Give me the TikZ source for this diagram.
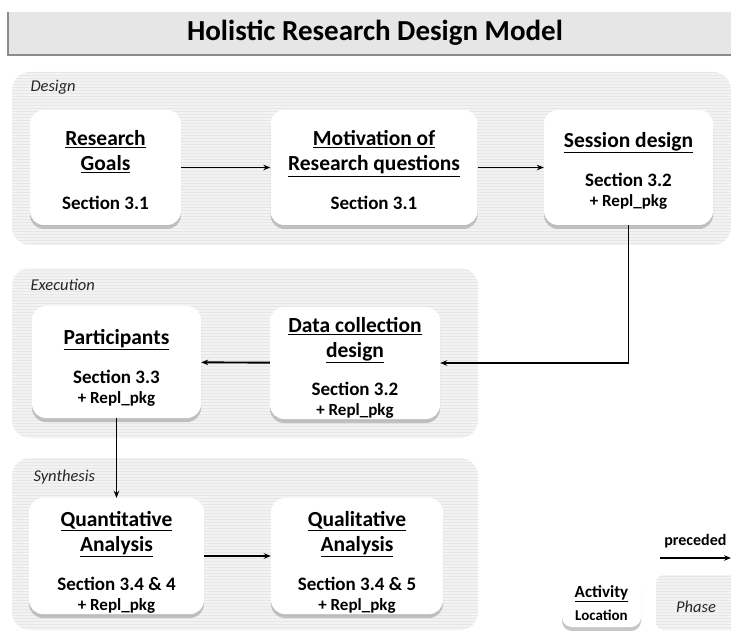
\documentclass[tikz,border=0pt]{standalone}
\usepackage{fontspec}
\setmainfont{Carlito}
\usetikzlibrary{arrows.meta,shadows,patterns}
\definecolor{phasegray}{HTML}{F3F3F3}
\definecolor{stripe}{HTML}{E6E6E6}
\definecolor{titlegray}{HTML}{E6E6E6}
\definecolor{titleedge}{HTML}{8C8C8C}
\newcommand\acttitle[1]{{\fontsize{21.5}{25}\selectfont\underline{#1}}}
\newcommand\repl{{\fontsize{17}{20}\selectfont + Repl\_pkg}}
\begin{document}
\begin{tikzpicture}[x=1pt,y=-1pt,
  phasebox/.style={fill=phasegray, rounded corners=18pt,
    postaction={pattern=horizontal lines, pattern color=stripe}},
  actbox/.style={fill=white, rounded corners=14pt, inner sep=0pt,
    drop shadow={shadow xshift=0pt, shadow yshift=-4pt, fill=black!40, opacity=0.55}},
  acttext/.style={align=center, inner sep=0pt, font=\bfseries\fontsize{19}{20}\selectfont},
  phaselabel/.style={anchor=west, font=\itshape\fontsize{16.5}{18}\selectfont, text=black!85},
  flow/.style={-{Stealth[length=7pt,width=5.5pt]}, line width=1.9pt}
]
\useasboundingbox (0,0) rectangle (731,631);

% title bar
\path[fill=titlegray] (7,12) rectangle (735,55);
\draw[titleedge, line width=1.5pt] (8,12) -- (8,55) -- (735,55);
\node[font=\bfseries\fontsize{29}{32}\selectfont] (title) at (375,33) {Holistic Research Design Model};

% phases
\path[phasebox] (12,72) rectangle (731,245);
\node[phaselabel] (lblDesign) at (27,87) {Design};
\path[phasebox] (12,268) rectangle (478,438);
\node[phaselabel] (lblExec) at (27,285) {Execution};
\path[phasebox] (12,458) rectangle (478,630);
\node[phaselabel] (lblSyn) at (30,477) {Synthesis};

% activities
\node[actbox, minimum width=151pt, minimum height=115pt] (goals) at (105.5,167.5) {};
\node[acttext] (goalsT) at (105.5,170.5)
  {\acttitle{Research}\\[5pt]\acttitle{Goals}\\[19pt]Section 3.1};
\node[actbox, minimum width=207pt, minimum height=115pt] (motiv) at (374,167.5) {};
\node[acttext] (motivT) at (374,170.5)
  {\acttitle{Motivation of}\\[5pt]\acttitle{Research questions}\\[19pt]Section 3.1};
\node[actbox, minimum width=169pt, minimum height=115pt] (sess) at (628.5,167.5) {};
\node[acttext] (sessT) at (628.5,171)
  {\acttitle{Session design}\\[19pt]Section 3.2\\\repl};
\node[actbox, minimum width=169pt, minimum height=112pt] (part) at (116.5,362) {};
\node[acttext] (partT) at (116.5,368)
  {\acttitle{Participants}\\[19pt]Section 3.3\\\repl};
\node[actbox, minimum width=170pt, minimum height=112pt] (data) at (355,363) {};
\node[acttext] (dataT) at (355,368)
  {\acttitle{Data collection}\\[5pt]\acttitle{design}\\[18pt]Section 3.2\\\repl};
\node[actbox, minimum width=175pt, minimum height=116pt] (quant) at (116.5,556) {};
\node[acttext] (quantT) at (116.5,562)
  {\acttitle{Quantitative}\\[5pt]\acttitle{Analysis}\\[19pt]Section 3.4 \& 4\\\repl};
\node[actbox, minimum width=172pt, minimum height=116pt] (qual) at (357,556) {};
\node[acttext] (qualT) at (357,562)
  {\acttitle{Qualitative}\\[5pt]\acttitle{Analysis}\\[19pt]Section 3.4 \& 5\\\repl};

% connectors
\draw[flow] (goals) -- (motiv);
\draw[flow] (motiv) -- (sess);
\draw[flow] (sess.south) |- (data.east);
\draw[flow] (data) -- (part);
\draw[flow] (part) -- (quant);
\draw[flow] (quant) -- (qual);

% legend
\node[font=\bfseries\fontsize{16}{18}\selectfont, anchor=east] (prec) at (730,541) {preceded};
\coordinate (precA) at (660,558);
\coordinate (precB) at (731,558);
\draw[flow] (precA) -- (precB);
\node[actbox, rounded corners=10pt, minimum width=79pt, minimum height=52pt] (legAct) at (601.5,601) {};
\node[acttext, font=\bfseries\fontsize{15}{17}\selectfont] (legActT) at (601.5,603)
  {{\fontsize{17}{18}\selectfont\underline{Activity}}\\[6pt]Location};
\path[phasebox, rounded corners=8pt] (656,575) rectangle (740,630);
\node[font=\itshape\fontsize{16.5}{18}\selectfont, text=black!85] (legPhase) at (696,607) {Phase};
\end{tikzpicture}
\end{document}
